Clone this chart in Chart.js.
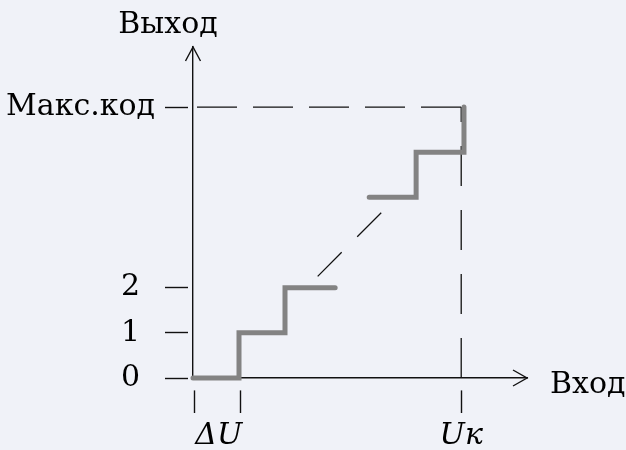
<!DOCTYPE html>
<html><head><meta charset="utf-8">
<script src="https://cdn.jsdelivr.net/npm/chart.js@4"></script>
<style>html,body{margin:0;padding:0;background:#f0f2f8}canvas{display:block}</style>
</head><body><canvas id="c" width="626" height="450"></canvas>
<script>
// ---- data ----
const yTickValues = [0, 1, 2, 6];
const yTickLabels = ['0', '1', '2', 'Макс.код'];
const xTickValues = [0.04, 0.56, 1.04, 5.83];
const xTickLabels = ['', 'ΔU', '', 'Uк'];
const xTickMarks = [true, false, true, true];
const lowStepX = [0, 1, 1, 2, 2, 3.09];
const lowStepY = [0, 0, 1, 1, 2, 2];
const highStepX = [3.83, 4.85, 4.85, 5.89, 5.89];
const highStepY = [4, 4, 5, 5, 6];
const gapX = [2.71, 4.1];
const gapY = [2.25, 3.67];
const maxCode = 6;
const uK = 5.83;
const maxLineX = [0, uK];
const maxLineY = [maxCode, maxCode];
const uKLineX = [uK, uK];
const uKLineY = [0, maxCode];
const axisTitles = { x: 'Вход', y: 'Выход' };

const pts = (xs, ys) => xs.map((x, i) => ({ x, y: ys[i] }));
const FONT = '"DejaVu Serif", "Liberation Serif", serif';
const INK = '#111';
const FS = 30;

const axisDecor = {
  id: 'axisDecor',
  afterDraw(chart) {
    const { ctx, chartArea: a } = chart;
    ctx.save();
    ctx.strokeStyle = INK; ctx.lineWidth = 1.4;
    ctx.beginPath();
    ctx.moveTo(a.left - 7.5, a.top + 14); ctx.lineTo(a.left, a.top); ctx.lineTo(a.left + 7.5, a.top + 14);
    ctx.moveTo(a.right - 14, a.bottom - 8); ctx.lineTo(a.right, a.bottom); ctx.lineTo(a.right - 14, a.bottom + 8);
    ctx.stroke();
    ctx.fillStyle = '#000';
    ctx.font = FS + 'px ' + FONT;
    ctx.textBaseline = 'alphabetic';
    ctx.textAlign = 'center';
    ctx.fillText(axisTitles.y, a.left - 25, a.top - 14);
    ctx.textAlign = 'left';
    ctx.fillText(axisTitles.x, a.right + 23, a.bottom + 15);
    ctx.restore();
  }
};

const lineBase = { pointRadius: 0, tension: 0, clip: false, fill: false };

new Chart(document.getElementById('c'), {
  type: 'line',
  data: {
    datasets: [
      { ...lineBase, data: pts(lowStepX, lowStepY), borderColor: '#838383', borderWidth: 5, borderCapStyle: 'round', borderJoinStyle: 'miter', order: 0 },
      { ...lineBase, data: pts(highStepX, highStepY), borderColor: '#838383', borderWidth: 5, borderCapStyle: 'round', borderJoinStyle: 'miter', order: 0 },
      { ...lineBase, data: pts(gapX, gapY), borderColor: INK, borderWidth: 1.3, borderDash: [34, 22], order: 1 },
      { ...lineBase, data: pts(maxLineX, maxLineY), borderColor: INK, borderWidth: 1.3, borderDash: [40, 16], borderDashOffset: 52, order: 1 },
      { ...lineBase, data: pts(uKLineX, uKLineY), borderColor: INK, borderWidth: 1.3, borderDash: [40, 24], order: 1 }
    ]
  },
  options: {
    responsive: false,
    animation: false,
    layout: { padding: { top: 47, right: 99, left: 0, bottom: 0 } },
    plugins: { legend: { display: false }, tooltip: { enabled: false } },
    scales: {
      x: {
        type: 'linear', min: 0, max: 7.26,
        border: { display: true, color: INK, width: 1.4 },
        grid: {
          drawOnChartArea: false, drawTicks: true, tickLength: 35,
          tickColor: c => xTickMarks[c.index] ? INK : 'rgba(0,0,0,0)',
          tickWidth: 1.4, tickBorderDash: [23, 12], tickBorderDashOffset: 23
        },
        ticks: {
          autoSkip: false, maxRotation: 0, padding: 5, color: '#000',
          font: { family: FONT, size: FS, style: 'italic' },
          callback: (v, i) => xTickLabels[i]
        },
        afterBuildTicks: s => { s.ticks = xTickValues.map(v => ({ value: v })); },
        afterFit: s => { s.height = 72; }
      },
      y: {
        type: 'linear', min: 0, max: 7.33,
        border: { display: true, color: INK, width: 1.4 },
        grid: {
          drawOnChartArea: false, drawTicks: true, tickLength: 28,
          tickColor: INK, tickWidth: 1.4, tickBorderDash: [23, 100]
        },
        ticks: {
          autoSkip: false, padding: 10, color: '#000',
          font: { family: FONT, size: FS },
          callback: (v, i) => { const l = yTickLabels[i]; return l.length === 1 ? l + '\u2002' : l; }
        },
        afterBuildTicks: s => { s.ticks = yTickValues.map(v => ({ value: v })); },
        afterFit: s => { s.width = 193; }
      }
    }
  },
  plugins: [axisDecor]
});
</script>
</body></html>
